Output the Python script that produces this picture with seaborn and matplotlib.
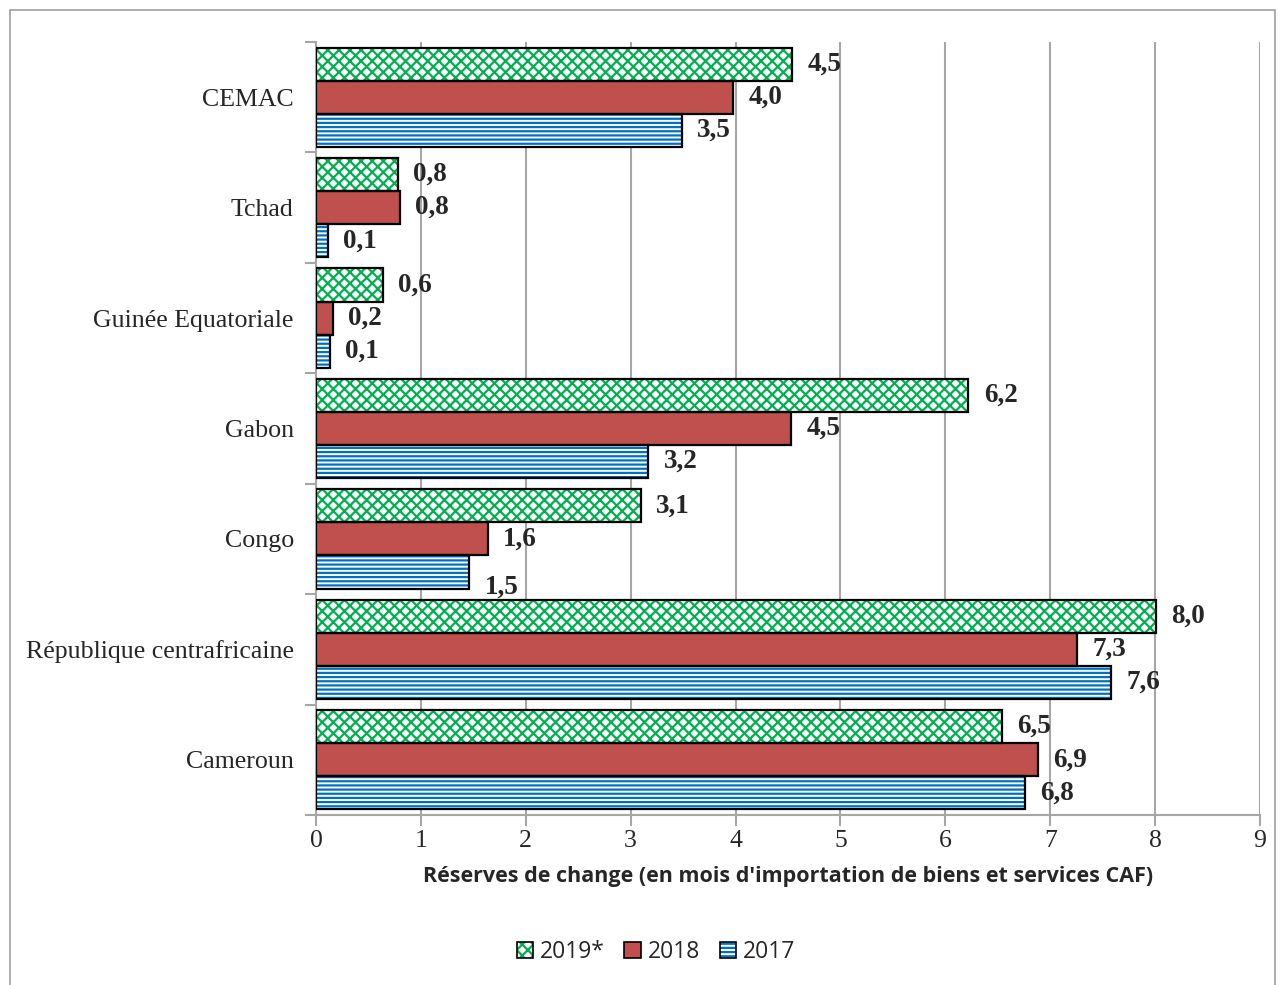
import pandas as pd
import matplotlib.pyplot as plt
import seaborn as sns
from matplotlib.patches import Rectangle, Patch
from matplotlib.ticker import FixedLocator

# Données (mois d'importation)
pays = ['CEMAC', 'Tchad', 'Guinée Equatoriale', 'Gabon', 'Congo',
        'République centrafricaine', 'Cameroun']
annees = ['2019*', '2018', '2017']
val_2019 = [4.54, 0.78, 0.64, 6.22, 3.10, 8.01, 6.54]
val_2018 = [3.98, 0.80, 0.16, 4.53, 1.64, 7.26, 6.88]
val_2017 = [3.49, 0.11, 0.13, 3.17, 1.46, 7.58, 6.76]
graduations = list(range(0, 10))

df = pd.DataFrame({
    'pays': pays * 3,
    'annee': [annees[0]] * 7 + [annees[1]] * 7 + [annees[2]] * 7,
    'valeur': val_2019 + val_2018 + val_2017,
})

sns.set_style("white")
plt.rcParams['font.family'] = ['Liberation Serif', 'DejaVu Serif']
plt.rcParams['hatch.linewidth'] = 1.6

VERT = '#00b050'
ROUGE = '#c0504d'
BLEU = '#0070c0'
GRIS = '#a6a6a6'

fig = plt.figure(figsize=(12.84, 9.85), dpi=100)
ax = fig.add_axes([316 / 1284, 1 - 815 / 985, (1260 - 316) / 1284, (815 - 42) / 985])

sns.barplot(data=df, x='valeur', y='pays', hue='annee', hue_order=annees, order=pays,
            palette={annees[0]: 'white', annees[1]: ROUGE, annees[2]: 'white'},
            saturation=1, orient='y', width=0.9, errorbar=None, legend=False, ax=ax)

styles = [
    dict(hatch='xxx', edgecolor=VERT),
    dict(hatch=None, edgecolor=ROUGE),
    dict(hatch='----', edgecolor=BLEU),
]

decalage_y = {(2, 4): 11}  # étiquette "1,5" du Congo un peu plus bas

for i, cont in enumerate(ax.containers):
    for j, bar in enumerate(cont):
        bar.set_linewidth(0)
        bar.set_edgecolor(styles[i]['edgecolor'])
        if styles[i]['hatch']:
            bar.set_hatch(styles[i]['hatch'])
        x, y = bar.get_x(), bar.get_y()
        w, h = bar.get_width(), bar.get_height()
        ax.add_patch(Rectangle((x, y), w, h, fill=False, edgecolor='black', lw=1.6, zorder=3))
        txt = f"{w:.1f}".replace('.', ',')
        dy = decalage_y.get((i, j), 0)
        ax.annotate(txt, xy=(x + w, y + h / 2), xytext=(11, -dy), textcoords='offset points',
                    ha='left', va='center', fontsize=19.5, fontweight='bold', zorder=4)

ax.set_xlim(0, 9)
ax.set_xticks(graduations)
ax.set_xticklabels([str(g) for g in graduations], fontsize=18.5)
ax.set_ylabel('')
ax.set_xlabel("Réserves de change (en mois d'importation de biens et services CAF)",
              fontsize=15.5, fontweight='bold', family=['Open Sans', 'DejaVu Sans'], labelpad=10)

ax.set_yticks(range(len(pays)))
ax.set_yticklabels(pays, fontsize=18.6)
ax.yaxis.set_minor_locator(FixedLocator([k - 0.5 for k in range(len(pays) + 1)]))
ax.tick_params(axis='y', which='major', length=0, pad=16)
ax.tick_params(axis='y', which='minor', length=8, width=1.5, color=GRIS, direction='out', left=True)
ax.tick_params(axis='x', which='major', length=8, width=1.5, color=GRIS, direction='out',
               bottom=True, pad=3)

ax.xaxis.grid(True, color=GRIS, lw=1.5)
ax.set_axisbelow(True)
for s in ['top', 'right']:
    ax.spines[s].set_visible(False)
for s in ['left', 'bottom']:
    ax.spines[s].set_color(GRIS)
    ax.spines[s].set_linewidth(1.5)

# Légende
poignees = [
    (Patch(facecolor='white', edgecolor=VERT, hatch='xxx', lw=0), Patch(fill=False, edgecolor='black', lw=1.2)),
    (Patch(facecolor=ROUGE, lw=0), Patch(fill=False, edgecolor='black', lw=1.2)),
    (Patch(facecolor='white', edgecolor=BLEU, hatch='----', lw=0), Patch(fill=False, edgecolor='black', lw=1.2)),
]
fig.legend(poignees, annees, loc='center', bbox_to_anchor=(656 / 1284, 1 - 952 / 985), ncol=3,
           frameon=False, handlelength=0.72, handleheight=0.72, handletextpad=0.3, columnspacing=0.85,
           prop={'family': ['Open Sans', 'DejaVu Sans'], 'size': 16.5})

# Cadre extérieur
fig.patches.append(Rectangle((10 / 1284, -0.01), 1265 / 1284, 1 - 10 / 985 + 0.01,
                             transform=fig.transFigure, fill=False, edgecolor='#a0a0a0', lw=1.2))

fig.savefig('out.png', dpi=100)
